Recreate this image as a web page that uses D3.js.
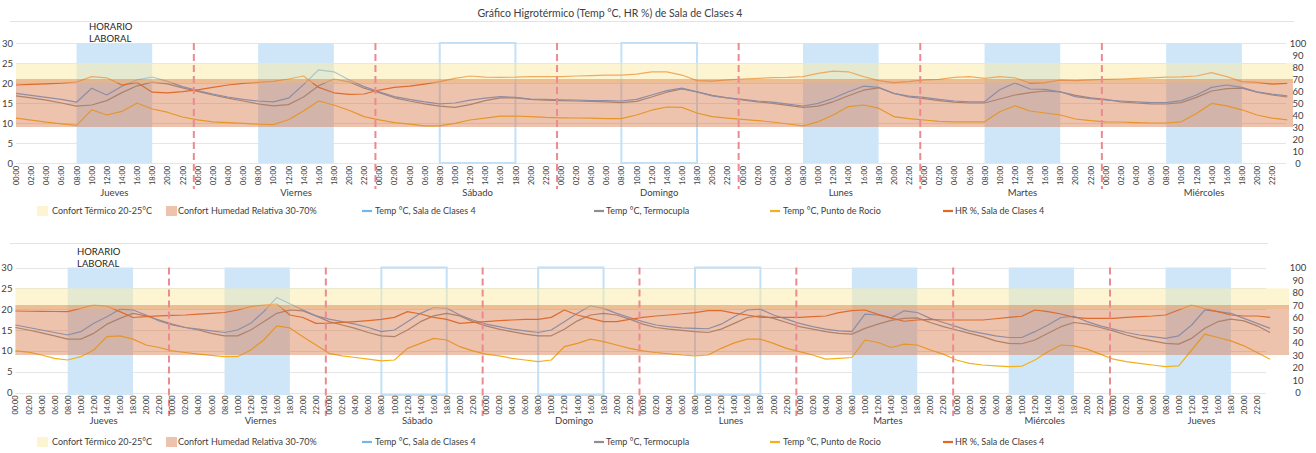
<!DOCTYPE html>
<html>
<head>
<meta charset="utf-8">
<script src="https://cdn.jsdelivr.net/npm/d3@7"></script>
<style>
  html, body { margin: 0; padding: 0; background: #ffffff; }
  svg { display: block; font-family: Lato, "Open Sans", sans-serif; }
</style>
</head>
<body>
<svg id="chart" width="1316" height="453"></svg>
<script>
// ---- Hour tick labels (every two hours) ----
const hourLabels = ["00:00","02:00","04:00","06:00","08:00","10:00","12:00","14:00","16:00","18:00","20:00","22:00"];

// ---- Days shown in each panel; true = working day (filled band), false = outlined ----
const daysTop = ["Jueves","Viernes","Sábado","Domingo","Lunes","Martes","Miércoles"];
const workdayTop = [true, true, false, false, true, true, true];
const daysBottom = ["Jueves","Viernes","Sábado","Domingo","Lunes","Martes","Miércoles","Jueves"];
const workdayBottom = [true, true, false, false, false, true, true, true];

// ---- Comfort ranges ----
const confortTermico = [20, 25];      // °C
const confortHumedad = [30, 70];      // %

// ---- Upper panel, one value every 2 h ----
const salaTop = [
  17.4,16.9,16.4,15.9,15.2,18.7,17.0,19.2,20.8,21.5,20.4,19.1,
  18.1,17.2,16.5,15.9,15.5,15.3,16.2,19.6,23.3,22.8,20.8,19.1,
  17.8,16.6,15.9,15.3,14.8,15.0,15.7,16.2,16.6,16.4,16.0,15.9,
  15.8,15.75,15.6,15.6,15.5,15.9,17.0,18.1,18.7,17.8,16.8,16.3,
  15.9,15.5,15.2,14.7,14.25,14.9,16.2,17.8,19.2,18.9,17.4,16.7,
  16.4,15.9,15.5,15.3,15.3,18.3,20.0,18.5,18.4,17.8,16.6,16.1,
  15.75,15.5,15.3,15.1,15.1,15.6,17.0,18.9,19.5,18.9,17.8,17.2,
  16.8
];
const termoTop = [
  16.8,16.3,15.7,15.0,14.2,14.5,15.6,17.6,19.3,20.2,19.8,18.8,
  17.9,17.0,16.2,15.5,14.8,14.3,14.6,16.5,19.3,21.0,20.3,18.7,
  17.6,16.3,15.5,14.8,14.2,13.9,14.6,15.6,16.3,16.3,15.9,15.7,
  15.6,15.5,15.4,15.3,15.1,15.4,16.5,17.7,18.5,17.8,16.9,16.3,
  15.8,15.3,14.9,14.4,13.9,14.2,15.3,16.8,18.2,18.8,17.4,16.5,
  16.1,15.6,15.2,15.0,15.0,16.0,17.0,17.6,18.0,17.8,16.9,16.3,
  15.9,15.3,15.0,14.8,14.75,15.1,16.4,18.0,18.6,18.7,17.7,17.0,
  16.5
];
const rocioTop = [
  11.2,10.7,10.2,9.8,9.4,13.3,12.0,12.9,15.0,13.5,12.7,11.5,
  10.8,10.3,10.1,9.9,9.7,9.6,10.8,13.0,15.5,14.5,13.2,11.6,
  10.8,10.1,9.7,9.3,9.3,9.9,10.75,11.2,11.7,11.75,11.6,11.4,
  11.3,11.25,11.2,11.1,11.1,12.0,13.2,14.0,13.9,12.5,11.6,11.2,
  10.9,10.6,10.25,9.75,9.3,10.3,12.0,14.1,14.5,13.7,11.6,11.1,
  10.75,10.4,10.3,10.3,10.3,12.8,14.3,13.0,12.5,12.0,11.0,10.6,
  10.3,10.25,10.1,10.0,10.0,10.3,12.4,14.9,14.3,13.3,12.0,11.2,
  10.8
];
const hrTop = [
  65,65.5,66,66.5,67.5,72,71,65,67,59,58.5,59.5,
  61,63,65,66.4,67.2,68,70,72.5,63,58.5,57.2,57.5,
  60.8,63,64,65.8,67.8,70.5,72.5,71.5,71.4,71.5,72,72,
  72,72.5,72.8,73.3,73.3,74,76,76,73.3,68.6,68.3,69.2,
  70,70.5,71.1,71.4,72,74.7,76.5,76,72,68.6,67,67.8,
  69.2,69.7,71.4,72,70.5,72,71,66.5,67,69,68.6,69.2,
  69.7,70,70.5,71,71.5,71.7,72.5,75.3,72,67.8,67.2,65.8,
  66.4
];

// ---- Lower panel, one value every 2 h ----
const salaBottom = [
  16.2,15.6,15.0,14.4,13.8,14.6,16.6,18.2,20.0,19.8,18.6,17.2,
  16.2,15.6,15.2,14.8,14.4,15.0,16.6,19.4,22.8,21.3,19.8,18.4,
  17.6,17.0,16.4,15.6,14.6,15.0,17.0,19.0,20.4,20.2,18.6,17.4,
  16.4,15.8,15.2,14.8,14.4,15.0,17.0,19.0,20.8,20.2,19.0,18.0,
  17.0,16.2,15.8,15.5,15.4,15.3,16.4,18.2,19.8,20.0,18.6,17.6,
  16.6,15.8,15.2,14.8,14.6,18.8,18.6,17.9,19.6,19.2,17.8,16.8,
  15.8,14.8,14.2,13.6,13.2,13.2,14.6,16.2,18.0,18.3,17.0,16.0,
  15.2,14.4,13.8,13.4,13.0,13.6,16.2,19.8,19.4,19.0,17.8,16.6,
  15.4
];
const termoBottom = [
  15.6,15.0,14.3,13.6,12.8,12.8,14.2,16.4,17.8,19.0,18.4,17.4,
  16.4,15.6,15.0,14.2,13.6,13.6,15.0,17.0,19.0,19.8,19.6,18.4,
  17.0,16.2,15.4,14.4,13.6,13.4,15.0,17.0,18.4,19.0,18.4,17.0,
  16.0,15.2,14.6,14.0,13.6,13.6,15.2,17.2,18.6,19.0,18.6,17.6,
  16.4,15.6,15.2,14.9,14.6,14.4,15.2,16.6,18.0,18.4,17.8,16.8,
  15.8,15.2,14.6,14.2,14.0,15.4,16.4,17.3,17.8,17.9,16.8,15.8,
  15.0,14.2,13.4,12.4,11.8,11.7,12.6,14.2,15.8,16.8,16.4,15.6,
  14.8,13.8,13.0,12.4,11.8,11.6,13.0,15.4,17.0,17.6,17.2,16.0,
  14.4
];
const rocioBottom = [
  10.0,9.7,9.0,8.2,7.8,8.6,10.2,13.4,13.6,12.8,11.4,10.8,
  10.0,9.6,9.2,8.9,8.6,8.6,10.2,12.6,16.0,15.5,13.4,11.4,
  9.4,8.8,8.4,8.0,7.6,7.8,10.6,11.8,13.0,12.6,11.0,10.0,
  9.2,8.8,8.2,7.8,7.4,7.8,11.0,11.8,12.8,12.2,11.4,10.6,
  10.0,9.6,9.3,9.0,8.8,9.0,10.6,11.9,12.8,12.8,11.8,10.6,
  9.8,9.0,8.0,8.2,8.4,12.6,12.0,10.8,11.6,11.4,10.2,9.2,
  7.8,7.0,6.6,6.4,6.2,6.3,7.8,9.8,11.4,11.2,10.4,9.2,
  8.0,7.4,7.0,6.6,6.2,6.4,10.2,14.0,13.2,12.4,11.2,9.6,
  8.0
];
const hrBottom = [
  65.2,65,64.9,64.8,64.7,67.3,70,69,64.7,60,60.7,61.3,
  61.7,62,62.7,63.3,64,66,68.7,70,70.8,62,60,55.3,
  55.5,56.1,56.7,57.5,58.5,60.1,64.7,62.8,60.1,58.5,55.3,56.1,
  56.7,57.5,58,58.5,58.5,60.1,66,62,59.3,56.7,56.7,58.5,
  60.1,61.2,62,63,63.9,65.5,65.5,63.5,62,60.1,60.1,60.1,
  60.1,60.7,61.2,63.9,65.5,66,62.5,59.5,57,58,58.5,58,
  58,58,58,59,60.1,61,66,64.7,62.8,60.1,59.3,59.3,
  59.3,60.1,60.7,61.2,62,66,70,67,64.7,62,61.2,61.2,
  60.1
];

// ---- Legend texts ----
const legendNames = [
  "Confort Térmico 20-25°C",
  "Confort Humedad Relativa 30-70%",
  "Temp °C, Sala de Clases 4",
  "Temp °C, Termocupla",
  "Temp °C, Punto de Rocio",
  "HR %, Sala de Clases 4"
];

const title = "Gráfico Higrotérmico (Temp °C, HR %) de Sala de Clases 4";
const horario = ["HORARIO", "LABORAL"];

// ---- Styling ----
const C = {
  sala: "#5aa2ee",
  salaLegend: "#6fb8ef",
  termo: "#8f8f8f",
  rocio: "#f2b11a",
  hr: "#e2691f",
  workFill: "#cfe6f8",
  workStroke: "#c3e0f6",
  bandYellow: "rgba(252,236,165,0.5)",
  bandOrange: "rgba(214,112,62,0.42)",
  legendYellow: "#fdf5d2",
  legendOrange: "#eec3ae",
  dash: "#ec8a90",
  grid: "#e6e6e6",
  text: "#404040"
};

const svg = d3.select("#chart");

svg.append("text")
  .attr("x", 610).attr("y", 13)
  .attr("text-anchor", "middle").attr("dy", "0.35em")
  .attr("font-size", 10.5).attr("fill", C.text)
  .text(title);

function drawPanel(cfg) {
  const g = svg.append("g");
  const nDays = cfg.days.length;
  const spanH = nDays * 24;
  const x = d3.scaleLinear().domain([0, spanH]).range([cfg.x0, cfg.x0 + spanH * cfg.step]);
  const yL = d3.scaleLinear().domain([0, 30]).range([cfg.yBottom, cfg.yTop]);
  const yR = d3.scaleLinear().domain([0, 100]).range([cfg.yBottom, cfg.yTop]);
  const hours = d3.range(cfg.sala.length).map(i => i * 2);

  // frame line above the plot
  g.append("line")
    .attr("x1", 10).attr("x2", cfg.frameRight)
    .attr("y1", cfg.frameY).attr("y2", cfg.frameY)
    .attr("stroke", "#e3e3e3").attr("stroke-width", 1);

  // horizontal grid
  g.append("g").selectAll("line").data(d3.range(0, 31, 5)).join("line")
    .attr("x1", x(0)).attr("x2", cfg.plotRight)
    .attr("y1", d => Math.round(yL(d)) + 0.5).attr("y2", d => Math.round(yL(d)) + 0.5)
    .attr("stroke", C.grid).attr("stroke-width", 1);

  // working hours 08:00-18:00, filled on working days
  const work = cfg.days.map((d, i) => ({ i, filled: cfg.workday[i] }));
  g.append("g").selectAll("rect").data(work.filter(d => d.filled)).join("rect")
    .attr("x", d => x(d.i * 24 + 8)).attr("width", d => x(d.i * 24 + 18) - x(d.i * 24 + 8))
    .attr("y", cfg.yTop).attr("height", cfg.boxBottom - cfg.yTop)
    .attr("fill", C.workFill);
  g.append("g").selectAll("rect").data(work.filter(d => !d.filled)).join("rect")
    .attr("x", d => x(d.i * 24 + 8)).attr("width", d => x(d.i * 24 + 18) - x(d.i * 24 + 8))
    .attr("y", cfg.yTop).attr("height", cfg.boxBottom - cfg.yTop)
    .attr("fill", "none").attr("stroke", C.workStroke).attr("stroke-width", 2);

  // series lines
  const lineT = d3.line().x((d, i) => x(hours[i])).y(d => yL(d));
  const lineH = d3.line().x((d, i) => x(hours[i])).y(d => yR(d));
  const series = [
    { v: cfg.termo, gen: lineT, c: C.termo },
    { v: cfg.sala, gen: lineT, c: C.sala },
    { v: cfg.rocio, gen: lineT, c: C.rocio },
    { v: cfg.hr, gen: lineH, c: C.hr }
  ];
  g.append("g").selectAll("path").data(series).join("path")
    .attr("d", d => d.gen(d.v))
    .attr("fill", "none").attr("stroke", d => d.c)
    .attr("stroke-width", 1.2).attr("stroke-linejoin", "round");

  // comfort bands drawn as translucent overlays
  g.append("rect")
    .attr("x", x(0)).attr("width", cfg.bandRight - x(0))
    .attr("y", yL(confortTermico[1])).attr("height", yL(confortTermico[0]) - yL(confortTermico[1]))
    .attr("fill", C.bandYellow);
  g.append("rect")
    .attr("x", x(0)).attr("width", cfg.bandRight - x(0))
    .attr("y", yR(confortHumedad[1])).attr("height", yR(confortHumedad[0]) - yR(confortHumedad[1]))
    .attr("fill", C.bandOrange);

  // day separators
  g.append("g").selectAll("line").data(d3.range(1, nDays)).join("line")
    .attr("x1", d => x(d * 24 - 0.5)).attr("x2", d => x(d * 24 - 0.5))
    .attr("y1", cfg.yTop).attr("y2", cfg.dashBottom)
    .attr("stroke", C.dash).attr("stroke-width", 2).attr("stroke-dasharray", "7,4");

  // left axis
  const axL = g.append("g").attr("transform", `translate(${cfg.x0 - 3},0)`)
    .call(d3.axisLeft(yL).tickValues(d3.range(0, 31, 5)).tickSize(0).tickPadding(0));
  axL.select(".domain").remove();
  axL.selectAll("text").attr("font-size", 9.5).attr("fill", C.text).attr("font-family", "Lato, sans-serif");

  // right axis
  const axR = g.append("g").attr("transform", `translate(${cfg.rightAxisX},0)`)
    .call(d3.axisRight(yR).tickValues(d3.range(0, 101, 10)).tickSize(0).tickPadding(0));
  axR.select(".domain").remove();
  axR.selectAll("text").attr("font-size", 9.5).attr("fill", C.text)
    .attr("text-anchor", "middle").attr("x", 0).attr("font-family", "Lato, sans-serif");

  // hour axis
  const tickHours = d3.range(0, spanH, 2);
  const axX = g.append("g").attr("transform", `translate(0,${cfg.yBottom})`)
    .call(d3.axisBottom(x).tickValues(tickHours).tickSize(0)
      .tickFormat(h => hourLabels[(h % 24) / 2]));
  axX.select(".domain").remove();
  axX.selectAll("text")
    .attr("transform", "rotate(-90)")
    .attr("x", -cfg.tickGap).attr("y", 0).attr("dy", "0.35em")
    .attr("text-anchor", "end")
    .attr("font-size", 7.4).attr("fill", C.text).attr("font-family", "Lato, sans-serif");

  // day names
  g.append("g").selectAll("text").data(cfg.days).join("text")
    .attr("x", (d, i) => x(i * 24 + cfg.dayOffset))
    .attr("y", cfg.dayY).attr("dy", "0.35em")
    .attr("text-anchor", "middle").attr("font-size", 9.5).attr("fill", C.text)
    .text(d => d);

  // working-hours caption
  g.append("g").selectAll("text").data(horario).join("text")
    .attr("x", cfg.horarioX).attr("y", (d, i) => cfg.horarioY + i * 12).attr("dy", "0.35em")
    .attr("font-size", 9.5).attr("fill", "#262626")
    .text(d => d);

  // legend
  const lg = g.append("g").attr("transform", `translate(0,${cfg.legendY})`);
  const boxes = [
    { x: 37, c: C.legendYellow, tx: 52, t: legendNames[0] },
    { x: 166, c: C.legendOrange, tx: 178, t: legendNames[1] }
  ];
  lg.selectAll("rect").data(boxes).join("rect")
    .attr("x", d => d.x).attr("y", -5).attr("width", 11).attr("height", 10).attr("fill", d => d.c);
  const lines = [
    { x: 362, c: C.salaLegend, tx: 375, t: legendNames[2] },
    { x: 594, c: C.termo, tx: 606, t: legendNames[3] },
    { x: 770, c: C.rocio, tx: 783, t: legendNames[4] },
    { x: 943, c: C.hr, tx: 955, t: legendNames[5] }
  ];
  lg.selectAll("line").data(lines).join("line")
    .attr("x1", d => d.x).attr("x2", d => d.x + 10).attr("y1", 0).attr("y2", 0)
    .attr("stroke", d => d.c).attr("stroke-width", 2.2);
  lg.selectAll("text").data(boxes.concat(lines)).join("text")
    .attr("x", d => d.tx).attr("y", 0).attr("dy", "0.35em")
    .attr("font-size", 9).attr("fill", C.text)
    .text(d => d.t);
}

drawPanel({
  days: daysTop, workday: workdayTop,
  sala: salaTop, termo: termoTop, rocio: rocioTop, hr: hrTop,
  x0: 16, step: 7.567, yTop: 43, yBottom: 163, boxBottom: 163,
  plotRight: 1286, bandRight: 1293, rightAxisX: 1298,
  frameY: 21.5, frameRight: 1294, dashBottom: 189, tickGap: 3,
  dayY: 193, dayOffset: 13, horarioX: 89, horarioY: 27, legendY: 211
});

drawPanel({
  days: daysBottom, workday: workdayBottom,
  sala: salaBottom, termo: termoBottom, rocio: rocioBottom, hr: hrBottom,
  x0: 15.4, step: 6.535, yTop: 267.5, yBottom: 392.5, boxBottom: 395,
  plotRight: 1266, bandRight: 1289, rightAxisX: 1298,
  frameY: 243.5, frameRight: 1268, dashBottom: 416, tickGap: 3,
  dayY: 421, dayOffset: 13.5, horarioX: 77, horarioY: 252, legendY: 442
});
</script>
</body>
</html>
